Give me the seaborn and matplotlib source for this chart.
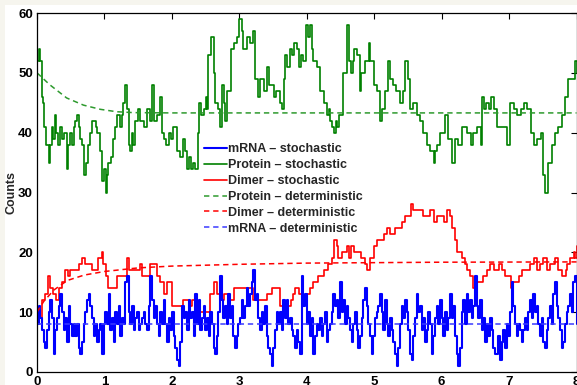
import numpy as np
import pandas as pd
import matplotlib
matplotlib.use("Agg")
import matplotlib.pyplot as plt
from matplotlib.patches import Rectangle
import seaborn as sns

# ---------------- data ----------------
protein_t = [0.00, 0.03, 0.05, 0.07, 0.09, 0.11, 0.14, 0.18, 0.19, 0.22, 0.24, 0.26, 0.28, 0.31, 0.34, 0.37, 0.40, 0.44, 0.46, 0.49,
             0.52, 0.55, 0.57, 0.60, 0.62, 0.64, 0.67, 0.70, 0.72, 0.76, 0.79, 0.81, 0.84, 0.87, 0.89, 0.94, 0.96, 0.99, 1.02, 1.04,
             1.06, 1.10, 1.13, 1.16, 1.18, 1.23, 1.26, 1.28, 1.31, 1.33, 1.36, 1.38, 1.41, 1.43, 1.46, 1.50, 1.53, 1.58, 1.63, 1.67,
             1.70, 1.73, 1.78, 1.83, 1.85, 1.88, 1.91, 1.95, 1.99, 2.02, 2.07, 2.12, 2.17, 2.20, 2.22, 2.25, 2.28, 2.32, 2.35, 2.38,
             2.40, 2.43, 2.47, 2.50, 2.52, 2.54, 2.58, 2.62, 2.64, 2.69, 2.71, 2.74, 2.77, 2.79, 2.82, 2.87, 2.92, 2.96, 3.00, 3.04,
             3.06, 3.11, 3.16, 3.21, 3.24, 3.27, 3.31, 3.36, 3.41, 3.44, 3.51, 3.54, 3.61, 3.63, 3.66, 3.68, 3.71, 3.75, 3.78, 3.81,
             3.85, 3.88, 3.92, 3.95, 3.99, 4.02, 4.05, 4.08, 4.10, 4.15, 4.20, 4.25, 4.30, 4.33, 4.35, 4.38, 4.40, 4.43, 4.45, 4.48,
             4.54, 4.59, 4.62, 4.65, 4.68, 4.70, 4.74, 4.79, 4.81, 4.86, 4.92, 4.94, 5.00, 5.04, 5.09, 5.11, 5.16, 5.21, 5.23, 5.28,
             5.33, 5.39, 5.43, 5.46, 5.50, 5.53, 5.58, 5.63, 5.68, 5.73, 5.78, 5.83, 5.88, 5.90, 5.93, 5.98, 6.05, 6.10, 6.15, 6.20,
             6.25, 6.30, 6.37, 6.43, 6.47, 6.52, 6.58, 6.60, 6.63, 6.66, 6.70, 6.73, 6.78, 6.82, 6.87, 6.92, 6.97, 7.02, 7.07, 7.12,
             7.17, 7.22, 7.27, 7.32, 7.37, 7.42, 7.47, 7.50, 7.53, 7.58, 7.63, 7.68, 7.73, 7.78, 7.83, 7.88, 7.93, 7.98, 8.00]
protein = [52, 54, 52, 46, 45, 41, 38, 35, 38, 41, 39, 43, 40, 38, 41, 39, 40, 34, 38, 40,
           38, 41, 42, 43, 41, 39, 38, 33, 35, 38, 40, 42, 42, 41, 40, 37, 32, 34, 30, 33,
           35, 36, 39, 41, 43, 41, 43, 45, 48, 44, 38, 37, 40, 38, 42, 44, 42, 41, 44, 42,
           48, 42, 43, 46, 40, 39, 38, 40, 39, 41, 37, 36, 39, 37, 34, 36, 34, 35, 34, 40,
           45, 43, 44, 46, 44, 53, 56, 50, 45, 44, 41, 48, 45, 42, 47, 54, 55, 56, 59, 57,
           54, 56, 55, 57, 49, 46, 49, 47, 51, 48, 46, 47, 45, 44, 49, 53, 51, 54, 53, 55,
           54, 51, 53, 52, 58, 56, 58, 54, 52, 51, 47, 45, 43, 44, 42, 41, 40, 42, 41, 43,
           50, 58, 52, 50, 52, 54, 53, 47, 50, 52, 55, 52, 48, 47, 42, 44, 47, 52, 49, 48,
           47, 45, 47, 52, 49, 44, 45, 43, 42, 40, 38, 37, 35, 37, 38, 40, 43, 39, 35, 39,
           38, 41, 40, 38, 40, 41, 38, 46, 44, 45, 44, 46, 44, 41, 41, 41, 38, 45, 44, 43,
           44, 45, 44, 40, 38, 39, 40, 33, 30, 35, 38, 40, 41, 43, 46, 49, 49, 52, 50]

dimer_t = [0.00, 0.03, 0.07, 0.12, 0.16, 0.19, 0.24, 0.28, 0.32, 0.37, 0.41, 0.46, 0.49, 0.59, 0.62, 0.66, 0.71, 0.76, 0.81, 0.86,
           0.91, 0.96, 0.98, 1.02, 1.06, 1.13, 1.18, 1.23, 1.33, 1.36, 1.48, 1.53, 1.55, 1.63, 1.68, 1.75, 1.78, 1.83, 1.88, 1.93,
           1.98, 2.00, 2.08, 2.17, 2.25, 2.30, 2.37, 2.52, 2.57, 2.62, 2.67, 2.72, 2.77, 2.84, 2.92, 3.01, 3.11, 3.21, 3.36, 3.41,
           3.49, 3.56, 3.61, 3.71, 3.76, 3.80, 3.83, 3.88, 3.93, 4.00, 4.05, 4.10, 4.17, 4.25, 4.32, 4.37, 4.40, 4.45, 4.47, 4.52,
           4.59, 4.62, 4.65, 4.70, 4.77, 4.81, 4.86, 4.89, 4.94, 4.99, 5.04, 5.14, 5.19, 5.24, 5.31, 5.41, 5.46, 5.54, 5.58, 5.73,
           5.83, 5.88, 5.93, 6.03, 6.08, 6.12, 6.15, 6.20, 6.23, 6.30, 6.35, 6.38, 6.42, 6.47, 6.52, 6.62, 6.67, 6.72, 6.77, 6.85,
           6.89, 6.94, 7.03, 7.06, 7.14, 7.19, 7.31, 7.37, 7.41, 7.46, 7.51, 7.56, 7.61, 7.68, 7.73, 7.79, 7.84, 7.86, 7.91, 7.96,
           7.98, 8.00]
dimer = [10, 9, 12, 13, 16, 14, 13, 12, 14, 15, 17, 16, 17, 17, 18, 19, 18, 18, 17, 17,
         19, 20, 18, 16, 14, 14, 16, 16, 19, 17, 17, 18, 16, 16, 18, 18, 16, 15, 13, 15,
         15, 11, 11, 12, 11, 12, 10, 10, 13, 15, 13, 12, 13, 12, 14, 14, 14, 12, 12, 13,
         14, 14, 11, 11, 12, 13, 14, 13, 12, 13, 14, 15, 16, 17, 18, 19, 22, 21, 19, 20,
         21, 19, 21, 20, 20, 19, 18, 17, 19, 21, 22, 23, 24, 23, 24, 25, 26, 28, 27, 26,
         27, 25, 26, 25, 27, 26, 24, 22, 20, 19, 18, 17, 16, 14, 15, 16, 17, 18, 17, 18,
         17, 16, 14, 15, 16, 17, 18, 19, 17, 18, 19, 17, 18, 19, 17, 16, 17, 18, 19, 20,
         19, 21]

mrna = [8, 11, 9, 7, 5, 4, 7, 10, 12, 9, 3, 7, 9, 11, 13, 10, 7, 9, 5, 11,
        8, 6, 8, 6, 8, 4, 3, 5, 8, 10, 12, 13, 11, 9, 6, 8, 5, 7, 8, 3,
        8, 10, 8, 13, 7, 9, 5, 10, 8, 11, 6, 9, 8, 15, 16, 10, 8, 11, 7, 9,
        10, 7, 8, 9, 10, 8, 7, 11, 16, 12, 9, 11, 8, 6, 10, 8, 12, 8, 5, 9,
        7, 10, 6, 4, 2, 1, 5, 11, 9, 10, 7, 12, 9, 10, 6, 13, 8, 12, 7, 9,
        11, 7, 9, 6, 10, 8, 4, 3, 6, 10, 16, 12, 9, 11, 8, 13, 9, 11, 6, 4,
        6, 8, 9, 12, 9, 11, 14, 11, 13, 15, 17, 12, 13, 9, 7, 10, 8, 11, 6, 4,
        3, 1, 4, 7, 10, 8,
        10, 7, 12, 9, 12, 8, 9, 7, 6, 4, 7, 5, 3, 16, 11, 13, 8, 10, 6, 9,
        3, 6, 8, 7, 9, 6, 8, 10, 5, 7, 8, 10, 13, 11, 12, 9, 15, 10, 12, 8,
        11, 9, 7, 5, 8, 10, 7, 4, 6, 9, 12, 14, 11, 8, 6, 3, 6, 9, 10, 11,
        13, 10, 7, 12, 8, 6, 9, 7, 5, 3, 1, 4, 8, 11, 9, 12, 10, 7, 3, 2,
        6, 9, 13, 10, 11, 7, 9, 5, 7, 10, 8, 3, 6, 9, 11, 8, 12, 9, 6, 10,
        7, 9, 13, 9, 11, 6, 3, 1, 4, 10, 12, 8, 13, 10, 12, 9, 11, 16, 11, 9,
        12, 7, 9, 5, 8, 6, 9, 7, 4, 3, 3, 6, 2, 5, 7, 4, 8, 6, 10, 15,
        11, 8, 6, 8, 7, 5, 7, 9, 7, 10, 12, 9, 13, 10, 11, 8, 6, 9, 5, 4,
        7, 9, 11, 8, 13, 15, 11, 9, 7, 4, 5, 8, 10, 11, 13, 10, 15, 16, 8]
mrna_t = np.linspace(0, 8, len(mrna))

protein_det_t = [0.0, 0.19, 0.44, 0.69, 0.94, 1.18, 1.43, 2.0, 8.0]
protein_det = [50.0, 48.0, 45.8, 44.6, 43.9, 43.5, 43.35, 43.3, 43.3]
dimer_det_t = [0.0, 0.1, 0.25, 0.45, 0.7, 1.0, 1.5, 2.0, 3.0, 4.0, 6.0, 8.0]
dimer_det = [10.0, 11.8, 13.7, 15.3, 16.2, 16.8, 17.4, 17.7, 18.0, 18.2, 18.35, 18.4]
mrna_det_t = [0.0, 8.0]
mrna_det = [8.0, 8.0]

labels = ["mRNA \u2013 stochastic", "Protein \u2013 stochastic", "Dimer \u2013 stochastic",
          "Protein \u2013 deterministic", "Dimer \u2013 deterministic", "mRNA \u2013 deterministic"]

# ---------------- style ----------------
sns.set_style("white")
plt.rcParams['font.family'] = ['Liberation Sans', 'DejaVu Sans']
plt.rcParams['font.weight'] = 'bold'

fig = plt.figure(figsize=(5.77, 3.85), dpi=100)
fig.patch.set_facecolor('#f6f5ee')
bg = Rectangle((5 / 577, 0), 1, 1 - 5 / 385, transform=fig.transFigure,
               facecolor='white', edgecolor='none', zorder=-10)
fig.patches.append(bg)
ax = fig.add_axes([37 / 577, 1 - 372 / 385, 539.5 / 577, 359 / 385])
ax.set_zorder(5)
ax.patch.set_facecolor('white')

GREEN = '#008000'
RED = '#ff0000'
BLUE = '#0000ff'

def draw(t, v, color, label, lw, dashed=False):
    df = pd.DataFrame({'t': t, 'v': v})
    kw = dict(drawstyle='steps-post') if not dashed else dict(dashes=(3.5, 2.5))
    sns.lineplot(data=df, x='t', y='v', ax=ax, color=color, lw=lw, label=label,
                 estimator=None, sort=False, **kw)

draw(protein_t, protein, GREEN, labels[1], 1.2)
draw(dimer_t, dimer, RED, labels[2], 1.2)
draw(mrna_t, mrna, BLUE, labels[0], 1.5)
draw(protein_det_t, protein_det, '#2e9a2e', labels[3], 1.1, dashed=True)
draw(dimer_det_t, dimer_det, RED, labels[4], 1.1, dashed=True)
draw(mrna_det_t, mrna_det, '#3a3aff', labels[5], 1.1, dashed=True)

ax.set_xlim(0, 8)
ax.set_ylim(0, 60)
ax.set_xticks(range(0, 9))
ax.set_yticks(range(0, 61, 10))
ax.set_xlabel('')
ax.set_ylabel('Counts', fontsize=9, fontweight='bold', labelpad=0.5)
ax.tick_params(direction='in', length=4, width=0.8, top=True, right=True,
               labelsize=9.5, pad=3, colors='black')
for lab in ax.get_xticklabels() + ax.get_yticklabels():
    lab.set_fontweight('bold')
for s in ax.spines.values():
    s.set_visible(True)
    s.set_color('black')
    s.set_linewidth(0.9)

handles, labs = ax.get_legend_handles_labels()
order = [labs.index(l) for l in labels]
leg = ax.legend([handles[i] for i in order], [labs[i] for i in order],
                loc='upper left', bbox_to_anchor=(0.31, 0.637), frameon=False,
                fontsize=9, handlelength=1.8, handletextpad=0.1, labelspacing=0.31,
                borderpad=0, borderaxespad=0)
for tx in leg.get_texts():
    tx.set_fontweight('bold')

fig.savefig('out.png', dpi=100, facecolor=fig.get_facecolor())
